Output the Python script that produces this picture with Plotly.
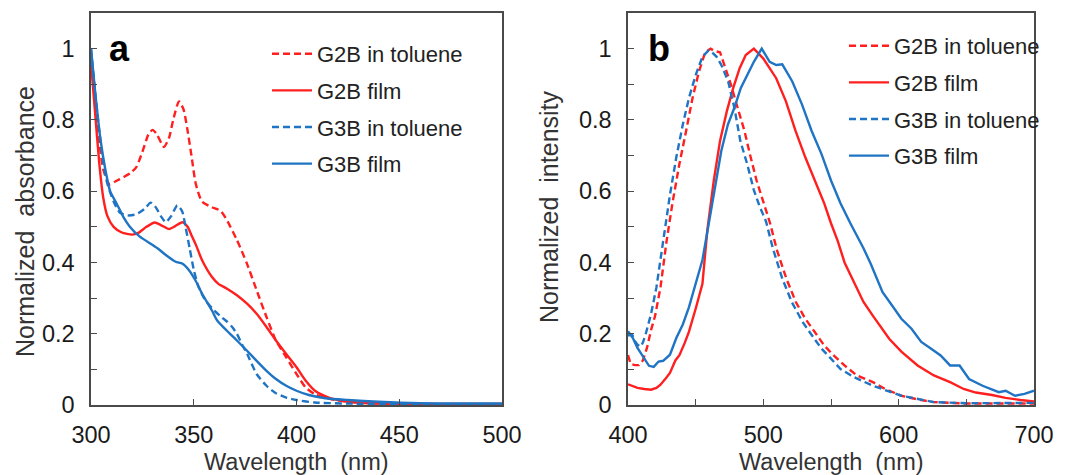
import plotly.graph_objects as go

# ---------------- Panel a: absorption ----------------
abs_g2b_tol_x = [300, 302, 304, 306, 309, 312, 316, 319, 322, 325, 328, 330, 332, 335.5, 338, 340, 342.8, 345, 347, 349,
                 351, 354, 358.8, 363, 366, 371, 375.8, 380.6, 385.4, 390, 395, 400, 404.5, 409, 417, 428, 440, 460, 500]
abs_g2b_tol_y = [0.97, 0.85, 0.74, 0.66, 0.619, 0.628, 0.64, 0.65, 0.667, 0.71, 0.76, 0.772, 0.76, 0.724, 0.75, 0.80, 0.852, 0.83, 0.77, 0.695,
                 0.62, 0.571, 0.555, 0.545, 0.52, 0.463, 0.398, 0.322, 0.247, 0.181, 0.134, 0.087, 0.049, 0.03, 0.016, 0.008, 0.004, 0.002, 0.002]

abs_g2b_film_x = [300, 302, 304, 306, 308, 311, 315, 320, 323, 327, 331, 334, 338, 341, 344.5, 347, 349, 351, 354, 358.8,
                  362, 366, 371, 375.8, 380.6, 385.4, 390, 395, 400, 404.5, 409, 415.7, 422, 428.5, 440, 460, 500]
abs_g2b_film_y = [0.96, 0.82, 0.68, 0.58, 0.53, 0.50, 0.484, 0.478, 0.483, 0.50, 0.512, 0.505, 0.494, 0.502, 0.513, 0.50, 0.475, 0.45, 0.407, 0.36,
                  0.34, 0.327, 0.308, 0.285, 0.256, 0.219, 0.181, 0.143, 0.106, 0.068, 0.04, 0.021, 0.012, 0.007, 0.004, 0.003, 0.003]

abs_g3b_tol_x = [300, 302, 304, 306, 308, 311, 314, 318, 322, 326, 329, 331.5, 334, 336.4, 339, 342, 344.4, 346, 348, 350,
                 352.3, 355, 357, 360, 363.6, 366, 368.5, 371, 373.5, 376, 380.6, 385.4, 390, 395, 400, 409, 425, 450, 500]
abs_g3b_tol_y = [1.0, 0.88, 0.77, 0.68, 0.62, 0.571, 0.54, 0.532, 0.535, 0.55, 0.568, 0.555, 0.53, 0.513, 0.53, 0.56, 0.543, 0.50, 0.44, 0.38,
                 0.332, 0.30, 0.284, 0.265, 0.246, 0.235, 0.22, 0.20, 0.17, 0.143, 0.087, 0.054, 0.033, 0.021, 0.014, 0.007, 0.004, 0.002, 0.002]

abs_g3b_film_x = [300, 302, 304.5, 307, 309.3, 312, 314, 316, 318.8, 323.6, 330, 333, 336.4, 341.2, 344.4, 347.6, 350.8, 354, 358.8,
                  361.4, 366, 371, 375.8, 380.6, 385.4, 390, 395, 400, 406, 414, 425, 440, 460, 500]
abs_g3b_film_y = [1.0, 0.88, 0.75, 0.66, 0.60, 0.57, 0.548, 0.525, 0.501, 0.473, 0.449, 0.437, 0.421, 0.402, 0.397, 0.379, 0.35, 0.313, 0.266,
                  0.237, 0.209, 0.181, 0.153, 0.124, 0.096, 0.073, 0.054, 0.04, 0.028, 0.019, 0.014, 0.009, 0.005, 0.004]

# ---------------- Panel b: photoluminescence ----------------
pl_g2b_tol_x = [400, 402, 405, 408, 411, 414, 417, 420, 424, 428.5, 433, 438, 443, 447.6, 452.4, 457, 461, 464, 468, 471,
                476, 481, 486, 490, 495, 500, 505, 510, 517, 524, 531, 538, 545, 552, 560, 569, 581, 590, 602, 615,
                626, 650, 675, 700]
pl_g2b_tol_y = [0.14, 0.115, 0.112, 0.112, 0.125, 0.16, 0.21, 0.25, 0.33, 0.46, 0.57, 0.677, 0.77, 0.86, 0.935, 0.99, 1.0, 0.993, 0.99, 0.955,
                0.90, 0.834, 0.77, 0.705, 0.63, 0.57, 0.51, 0.435, 0.355, 0.289, 0.242, 0.205, 0.167, 0.139, 0.111, 0.083, 0.064, 0.045, 0.026, 0.015,
                0.008, 0.004, 0.004, 0.004]

pl_g2b_film_x = [400, 407, 412, 417, 421, 424, 428, 431, 435, 438, 442, 445, 450, 455, 458.6, 463.4, 468, 473, 477.7, 482.5,
                 487, 493, 500, 509.5, 516.7, 523.8, 531, 538, 545, 550, 555, 560, 567, 574, 581, 586, 593, 602, 614, 626,
                 638, 648, 657, 669, 679, 690, 700]
pl_g2b_film_y = [0.058, 0.048, 0.045, 0.043, 0.048, 0.057, 0.075, 0.09, 0.125, 0.14, 0.175, 0.205, 0.27, 0.34, 0.49, 0.63, 0.741, 0.824, 0.889, 0.945,
                 0.982, 1.0, 0.972, 0.917, 0.852, 0.769, 0.695, 0.63, 0.566, 0.51, 0.46, 0.40, 0.346, 0.289, 0.25, 0.223, 0.186, 0.15, 0.111, 0.083,
                 0.064, 0.045, 0.035, 0.028, 0.02, 0.014, 0.01]

pl_g3b_tol_x = [400, 403, 405, 407, 409.5, 411, 413, 417, 421, 426, 431, 435.7, 440.5, 445, 450, 455, 459.5, 462, 465.5, 469,
                474, 478.6, 483, 488, 493, 497, 502, 507, 514, 521, 529, 536, 543, 550, 557, 567, 581, 602, 626, 650, 700]
pl_g3b_tol_y = [0.195, 0.198, 0.18, 0.169, 0.164, 0.175, 0.198, 0.255, 0.33, 0.46, 0.59, 0.695, 0.787, 0.861, 0.926, 0.977, 0.995, 0.99, 0.977, 0.954,
                0.908, 0.834, 0.741, 0.677, 0.603, 0.56, 0.515, 0.44, 0.355, 0.289, 0.233, 0.195, 0.158, 0.13, 0.101, 0.078, 0.054, 0.026, 0.008, 0.005, 0.006]

pl_g3b_film_x = [400, 403.6, 407, 412, 415.5, 419, 422.6, 426, 431, 435.7, 440.5, 445, 450, 455, 459.5, 464.3, 469, 473.8, 478.6, 483.3,
                 488, 493, 498.8, 504.7, 509.5, 514, 521.4, 528.6, 535.7, 543, 550, 557, 564.3, 574, 579.5, 588, 595, 602, 609.5, 616.7,
                 624, 631, 638, 645, 652, 662, 674, 679, 686, 693, 700]
pl_g3b_film_y = [0.207, 0.188, 0.16, 0.131, 0.11, 0.107, 0.122, 0.124, 0.141, 0.188, 0.226, 0.274, 0.34, 0.407, 0.505, 0.612, 0.714, 0.787, 0.834, 0.889,
                 0.926, 0.963, 1.0, 0.963, 0.954, 0.956, 0.908, 0.843, 0.769, 0.704, 0.63, 0.566, 0.51, 0.44, 0.395, 0.317, 0.28, 0.242, 0.214, 0.177,
                 0.158, 0.139, 0.111, 0.111, 0.073, 0.054, 0.036, 0.04, 0.026, 0.031, 0.04]

series_names = ["G2B in toluene", "G2B film", "G3B in toluene", "G3B film"]
y_ticks = [0, 0.1, 0.2, 0.3, 0.4, 0.5, 0.6, 0.7, 0.8, 0.9, 1.0]
y_ticktext = ["0", "", "0.2", "", "0.4", "", "0.6", "", "0.8", "", "1"]
x1_ticks = [300, 350, 400, 450, 500]
x1_ticktext = ["300", "350", "400", "450", "500"]
x2_ticks = [400, 450, 500, 550, 600, 650, 700]
x2_ticktext = ["400", "", "500", "", "600", "", "700"]

RED = "#FF1F1F"
BLUE = "#1F74C4"
colors = [RED, RED, BLUE, BLUE]
dashes = ["7px,4px", "solid", "7px,4px", "solid"]

W, H = 1069, 475
FONT = "Liberation Sans, Arial, sans-serif"

# panel frames in pixels
L1, R1 = 91, 502
L2, R2 = 628, 1034
TOP, BOT = 13, 405

fig = go.Figure()

abs_data = [(abs_g2b_tol_x, abs_g2b_tol_y), (abs_g2b_film_x, abs_g2b_film_y),
            (abs_g3b_tol_x, abs_g3b_tol_y), (abs_g3b_film_x, abs_g3b_film_y)]
pl_data = [(pl_g2b_tol_x, pl_g2b_tol_y), (pl_g2b_film_x, pl_g2b_film_y),
           (pl_g3b_tol_x, pl_g3b_tol_y), (pl_g3b_film_x, pl_g3b_film_y)]

for i, (xs, ys) in enumerate(abs_data):
    fig.add_trace(go.Scatter(x=xs, y=ys, mode="lines", name=series_names[i],
                             line=dict(color=colors[i], width=2.4, dash=dashes[i], shape="spline", smoothing=0.6),
                             xaxis="x", yaxis="y", legend="legend", legendgroup="a%d" % i))
for i, (xs, ys) in enumerate(pl_data):
    fig.add_trace(go.Scatter(x=xs, y=ys, mode="lines", name=series_names[i],
                             line=dict(color=colors[i], width=2.4, dash=dashes[i]),
                             xaxis="x2", yaxis="y2", legend="legend2", legendgroup="b%d" % i))

axis_common = dict(showline=True, mirror=True, linecolor="#4a4a4a", linewidth=1.5,
                   ticks="inside", ticklen=6, tickwidth=1.2, tickcolor="#4a4a4a",
                   showgrid=False, zeroline=False, automargin=False,
                   tickfont=dict(family=FONT, size=23.5, color="#1a1a1a"))

ydom = [(H - BOT) / H, (H - TOP) / H]
TITLE_FONT_X = dict(family=FONT, size=23.5, color="#333")
TITLE_FONT_Y = dict(family=FONT, size=25, color="#333")

fig.update_layout(
    width=W, height=H,
    margin=dict(l=0, r=0, t=0, b=0, autoexpand=False),
    paper_bgcolor="white", plot_bgcolor="white",
    font=dict(family=FONT, color="#222"),
    xaxis=dict(domain=[L1 / W, R1 / W], range=[300, 500], tickvals=x1_ticks, ticktext=x1_ticktext,
               anchor="y", ticklabelstandoff=8, **axis_common),
    yaxis=dict(domain=ydom, range=[0, 1.1], tickvals=y_ticks, ticktext=y_ticktext,
               anchor="x", ticklabelstandoff=10, **axis_common),
    xaxis2=dict(domain=[L2 / W, R2 / W], range=[400, 700], tickvals=x2_ticks, ticktext=x2_ticktext,
                anchor="y2", ticklabelstandoff=8, **axis_common),
    yaxis2=dict(domain=ydom, range=[0, 1.1], tickvals=y_ticks, ticktext=y_ticktext,
                anchor="x2", ticklabelstandoff=10, **axis_common),
    legend=dict(x=(L1 + 176) / W, y=(H - 33) / H, xanchor="left", yanchor="top",
                bgcolor="rgba(0,0,0,0)", borderwidth=0, tracegroupgap=5,
                font=dict(family=FONT, size=22, color="#222"), itemwidth=40),
    legend2=dict(x=(L2 + 216) / W, y=(H - 25) / H, xanchor="left", yanchor="top",
                 bgcolor="rgba(0,0,0,0)", borderwidth=0, tracegroupgap=5,
                 font=dict(family=FONT, size=22, color="#222"), itemwidth=40),
    annotations=[
        dict(text="<b>a</b>", x=0.04, xref="x domain", y=1.0, yref="y", xanchor="left", yanchor="middle",
             showarrow=False, font=dict(family=FONT, size=36, color="black")),
        dict(text="<b>b</b>", x=0.045, xref="x2 domain", y=1.0, yref="y2", xanchor="left", yanchor="middle",
             showarrow=False, font=dict(family=FONT, size=36, color="black")),
        dict(text="Wavelength  (nm)", x=0.5, xref="x domain", y=(H - 462) / H, yref="paper",
             xanchor="center", yanchor="middle", showarrow=False, font=TITLE_FONT_X),
        dict(text="Wavelength  (nm)", x=0.5, xref="x2 domain", y=(H - 462) / H, yref="paper",
             xanchor="center", yanchor="middle", showarrow=False, font=TITLE_FONT_X),
        dict(text="Normalized  absorbance", x=25 / W, xref="paper", y=(H - 222) / H, yref="paper",
             xanchor="center", yanchor="middle", textangle=-90, showarrow=False, font=TITLE_FONT_Y),
        dict(text="Normalized  intensity", x=549 / W, xref="paper", y=(H - 207) / H, yref="paper",
             xanchor="center", yanchor="middle", textangle=-90, showarrow=False, font=TITLE_FONT_Y),
    ],
)

fig.write_html("out.html", config={"displayModeBar": False},
               post_script="document.body.style.margin='0';document.body.style.overflow='hidden';")
